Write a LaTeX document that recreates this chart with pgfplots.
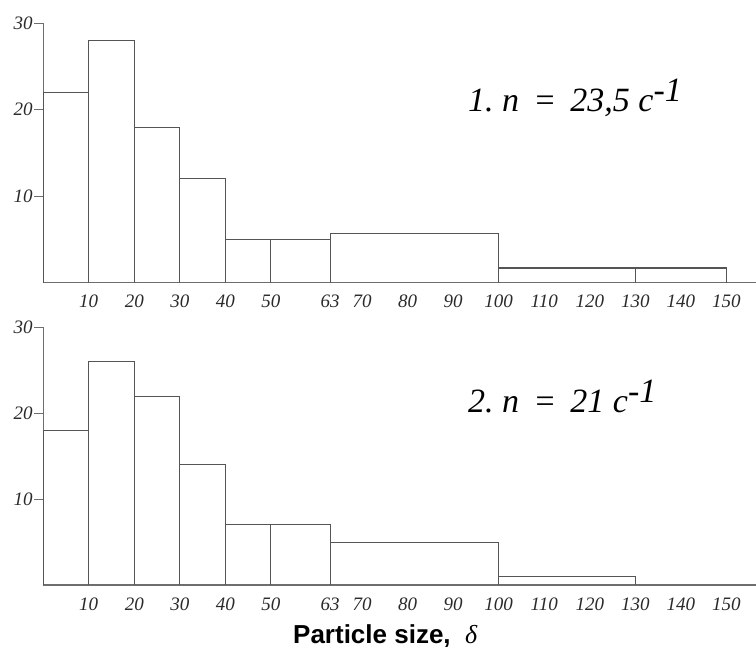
\documentclass[border=0pt]{standalone}
\usepackage{pgfplots}
\pgfplotsset{compat=1.18}
\usepackage{fontspec}
\setmainfont{Liberation Serif}
\newfontfamily\headfont{Liberation Sans}
\definecolor{axgray}{HTML}{6E6E6E}
\definecolor{bargray}{HTML}{555555}
\definecolor{lblgray}{HTML}{2A2A2A}
\pgfplotsset{
  hist/.style={
    scale only axis, width=712.8pt,
    xmin=0, xmax=156.5, ymin=0, ymax=30,
    axis x line=bottom, axis y line=left,
    axis line style={-, draw=axgray, line width=1.2pt},
    xtick={10,20,30,40,50,63,70,80,90,100,110,120,130,140,150},
    ytick={10,20,30},
    tick align=outside, major tick length=9pt,
    xtick style={draw=none},
    ytick style={draw=axgray, line width=1.1pt},
    ticklabel style={font=\fontsize{19}{19}\selectfont\itshape, text=lblgray},
    yticklabel style={xshift=2pt},
    /pgf/number format/assume math mode=true,
    /pgf/number format/set thousands separator={},
    clip=false,
    anchor=south west,
  },
  bars/.style={draw=bargray, line width=1.1pt, sharp plot, mark=none},
}
\begin{document}
\begin{tikzpicture}
\useasboundingbox (0,0) rectangle (756pt,653pt);
\begin{axis}[hist, at={(43.2pt,370.3pt)}, height=259.4pt]
\addplot[bars] coordinates {
 (0,0) (0,22) (10,22) (10,0)
 (10,28) (20,28) (20,0)
 (20,18) (30,18) (30,0)
 (30,12) (40,12) (40,0)
 (40,5) (50,5) (50,0)
 (50,5) (63,5) (63,0)
 (63,5.7) (100,5.7) (100,0)
 (100,1.7) (130,1.7) (130,0)
 (130,1.7) (150,1.7) (150,0)
};
\end{axis}
\begin{axis}[hist, at={(43.2pt,68pt)}, height=257.5pt]
\addplot[bars] coordinates {
 (0,0) (0,18) (10,18) (10,0)
 (10,26) (20,26) (20,0)
 (20,22) (30,22) (30,0)
 (30,14) (40,14) (40,0)
 (40,7) (50,7) (50,0)
 (50,7) (63,7) (63,0)
 (63,5) (100,5) (100,0)
 (100,1) (130,1) (130,0)
};
\end{axis}
\node[anchor=base west, inner sep=0pt] at (468pt,541pt)
  {\fontsize{34}{34}\selectfont\itshape 1.\ n\ \,=\ \,23,5\ c\raisebox{0.3em}{-1}};
\node[anchor=base west, inner sep=0pt] at (468pt,240pt)
  {\fontsize{34}{34}\selectfont\itshape 2.\ n\ \,=\ \,21\ c\raisebox{0.3em}{-1}};
\node[anchor=base west, inner sep=0pt] at (293pt,9pt)
  {\fontsize{26}{26}\selectfont\headfont\bfseries Particle size,\ \ {\mdseries\rmfamily\itshape δ}};
\end{tikzpicture}
\end{document}
